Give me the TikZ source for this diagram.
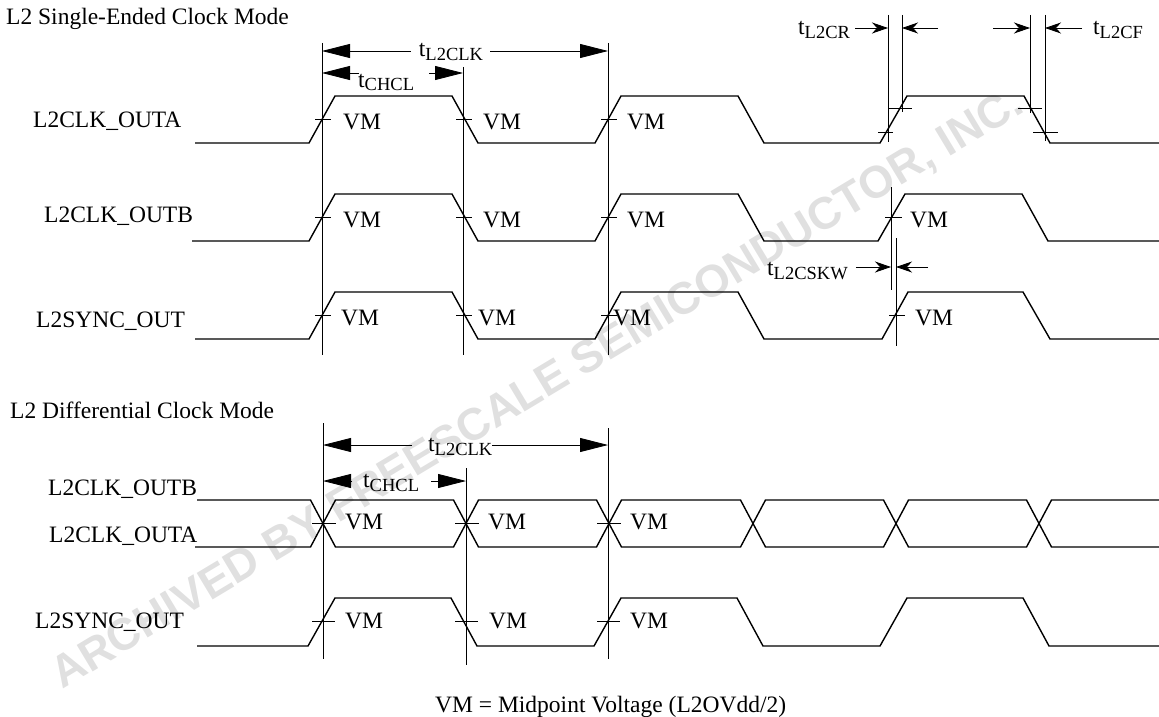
\documentclass[tikz,border=0pt]{standalone}
\usepackage{fontspec}
\setmainfont{Liberation Serif}
\newfontfamily\wmfont{Liberation Sans}
\usetikzlibrary{arrows.meta}
\newcommand\tsub[1]{t\raisebox{-4pt}{\fontsize{18.5}{18.5}\selectfont #1}}
\begin{document}
\begin{tikzpicture}[x=1pt,y=-1pt,
  every node/.style={inner sep=0pt, font=\fontsize{23.5}{28}\selectfont},
  sig/.style={line width=1.4pt, line join=miter},
  vline/.style={line width=0.8pt},
  tickmark/.style={line width=0.8pt},
  bigdim/.style={line width=0.8pt, -{Triangle[length=28pt,width=14pt]}},
  smalldim/.style={line width=0.8pt, -{Stealth[length=16pt,width=11pt,inset=5pt]}},
  lbl/.style={anchor=base west},
]
\useasboundingbox (0,0) rectangle (1159,717);

% watermark
\node[rotate=31, anchor=base west, font=\wmfont\bfseries\fontsize{45}{45}\selectfont, text=black!12] (wm) at (62,690) {ARCHIVED BY FREESCALE SEMICONDUCTOR, INC.};

% ---------------- Single-ended section ----------------
\node[lbl] (title1) at (6,25) {L2 Single-Ended Clock Mode};
\node[lbl] (nA) at (33,127) {L2CLK\_OUTA};
\node[lbl] (nB) at (44,222) {L2CLK\_OUTB};
\node[lbl] (nS) at (36,327) {L2SYNC\_OUT};

% signals
\draw[sig] (195,143) -- (309,143) -- (335,96) -- (452,96) -- (478,143) -- (595,143) -- (621,96) -- (738,96) -- (764,143) -- (880,143) -- (907,96) -- (1024,96) -- (1050,143) -- (1159,143);
\draw[sig] (192,241) -- (309,241) -- (335,194) -- (452,194) -- (478,241) -- (595,241) -- (621,194) -- (738,194) -- (764,241) -- (878,241) -- (905,194) -- (1022,194) -- (1048,241) -- (1159,241);
\draw[sig] (195,339) -- (309,339) -- (335,292) -- (452,292) -- (478,339) -- (595,339) -- (621,292) -- (738,292) -- (764,339) -- (882,339) -- (908,292) -- (1023,292) -- (1050,339) -- (1159,339);

% vertical reference lines
\draw[vline] (322,43) -- (322,355);
\draw[vline] (463,67) -- (463,355);
\draw[vline] (608,43) -- (608,355);
\draw[vline] (888,15) -- (888,142);
\draw[vline] (902,15) -- (902,112);
\draw[vline] (1030,15) -- (1030,113);
\draw[vline] (1045,15) -- (1045,141);
\draw[vline] (891,187) -- (891,290);
\draw[vline] (896,238) -- (896,346);

% VM ticks
\foreach \c in {322,463,608} {
  \draw[tickmark] (\c-7,119.5) -- (\c+9,119.5);
  \draw[tickmark] (\c-7,217.5) -- (\c+9,217.5);
  \draw[tickmark] (\c-7,315.5) -- (\c+9,315.5);
}
\draw[tickmark] (885,217.5) -- (902,217.5);
\draw[tickmark] (889,315.5) -- (905,315.5);
\draw[tickmark] (888,108) -- (912,108);
\draw[tickmark] (878,132) -- (893,132);
\draw[tickmark] (1018,108) -- (1042,108);
\draw[tickmark] (1033,132) -- (1058,132);

% VM labels
\foreach \x [count=\i] in {343,483,627} \node[lbl] (vmA\i) at (\x,129) {VM};
\foreach \x [count=\i] in {343,483,627,910} \node[lbl] (vmB\i) at (\x,227) {VM};
\foreach \x [count=\i] in {341,478,613,915} \node[lbl] (vmS\i) at (\x,325) {VM};

% tL2CLK
\coordinate (p1) at (322,51);
\coordinate (p2) at (608,51);
\node[anchor=base] (lclk) at (451,57) {\tsub{L2CLK}};
\draw[bigdim] ([xshift=-8pt]p1 -| lclk.west) -- (p1);
\draw[bigdim] ([xshift=7pt]p2 -| lclk.east) -- (p2);
% tCHCL
\coordinate (q1) at (322,73);
\coordinate (q2) at (463,73);
\node[anchor=base west] (lchcl) at (358,87) {\tsub{CHCL}};
\draw[bigdim] ([xshift=1pt]q1 -| lchcl.west) -- (q1);
\draw[bigdim] ([xshift=15pt]q2 -| lchcl.east) -- (q2);

% tL2CR
\node[anchor=base west] (lcr) at (798,35) {\tsub{L2CR}};
\coordinate (r1) at (888,28);
\coordinate (r2) at (902,28);
\coordinate (r2f) at (938,28);
\draw[smalldim] ([xshift=5pt]r1 -| lcr.east) -- (r1);
\draw[smalldim] (r2f) -- (r2);
% tL2CF
\node[anchor=base west] (lcf) at (1093,35) {\tsub{L2CF}};
\coordinate (f1) at (1030,28);
\coordinate (f1f) at (993,28);
\coordinate (f2) at (1045,28);
\draw[smalldim] (f1f) -- (f1);
\draw[smalldim] ([xshift=-11pt]f2 -| lcf.west) -- (f2);
% tL2CSKW
\node[anchor=base west] (lskw) at (767,275) {\tsub{L2CSKW}};
\coordinate (s1) at (891,267);
\coordinate (s2) at (896,267);
\coordinate (s2f) at (928,267);
\draw[smalldim] ([xshift=8pt]s1 -| lskw.east) -- (s1);
\draw[smalldim] (s2f) -- (s2);

% ---------------- Differential section ----------------
\node[lbl] (title2) at (10,418) {L2 Differential Clock Mode};
\node[lbl] (dB) at (48,495) {L2CLK\_OUTB};
\node[lbl] (dA) at (49,542) {L2CLK\_OUTA};
\node[lbl] (dS) at (35,628) {L2SYNC\_OUT};

\draw[sig] (197,500) -- (310.5,500) -- (335.5,547) -- (453.5,547) -- (478.5,500) -- (596.5,500) -- (621.5,547) -- (740.5,547) -- (765.5,500) -- (883.5,500) -- (908.5,547) -- (1026.5,547) -- (1051.5,500) -- (1159,500);
\draw[sig] (195,547) -- (310.5,547) -- (335.5,500) -- (453.5,500) -- (478.5,547) -- (596.5,547) -- (621.5,500) -- (740.5,500) -- (765.5,547) -- (883.5,547) -- (908.5,500) -- (1026.5,500) -- (1051.5,547) -- (1159,547);
\draw[sig] (197,646) -- (308,646) -- (335,598) -- (451,598) -- (477,646) -- (594,646) -- (621,598) -- (737,598) -- (763,646) -- (880,646) -- (907,598) -- (1023,598) -- (1049,646) -- (1159,646);

\draw[vline] (323,423) -- (323,659);
\draw[vline] (466,468) -- (466,665);
\draw[vline] (608,428) -- (608,659);

\foreach \c in {323,466,608} {
  \draw[tickmark] (\c-11,523) -- (\c+13,523);
  \draw[tickmark] (\c-11,621) -- (\c+12,621);
}
\foreach \x [count=\i] in {345,488,630} \node[lbl] (vmD\i) at (\x,529) {VM};
\foreach \x [count=\i] in {345,489,630} \node[lbl] (vmE\i) at (\x,628) {VM};

% tL2CLK (differential)
\coordinate (u1) at (323,445);
\coordinate (u2) at (608,445);
\node[anchor=base west] (dclk) at (428,451) {\tsub{L2CLK}};
\draw[bigdim] ([xshift=-16pt]u1 -| dclk.west) -- (u1);
\draw[bigdim] (u2 -| dclk.east) -- (u2);
% tCHCL (differential)
\coordinate (v1) at (323,481);
\coordinate (v2) at (466,481);
\node[anchor=base west] (dchcl) at (363,487) {\tsub{CHCL}};
\draw[bigdim] ([xshift=-11pt]v1 -| dchcl.west) -- (v1);
\draw[bigdim] ([xshift=12pt]v2 -| dchcl.east) -- (v2);

% footer
\node[lbl] (foot) at (435,712) {VM = Midpoint Voltage (L2OVdd/2)};
\end{tikzpicture}
\end{document}
